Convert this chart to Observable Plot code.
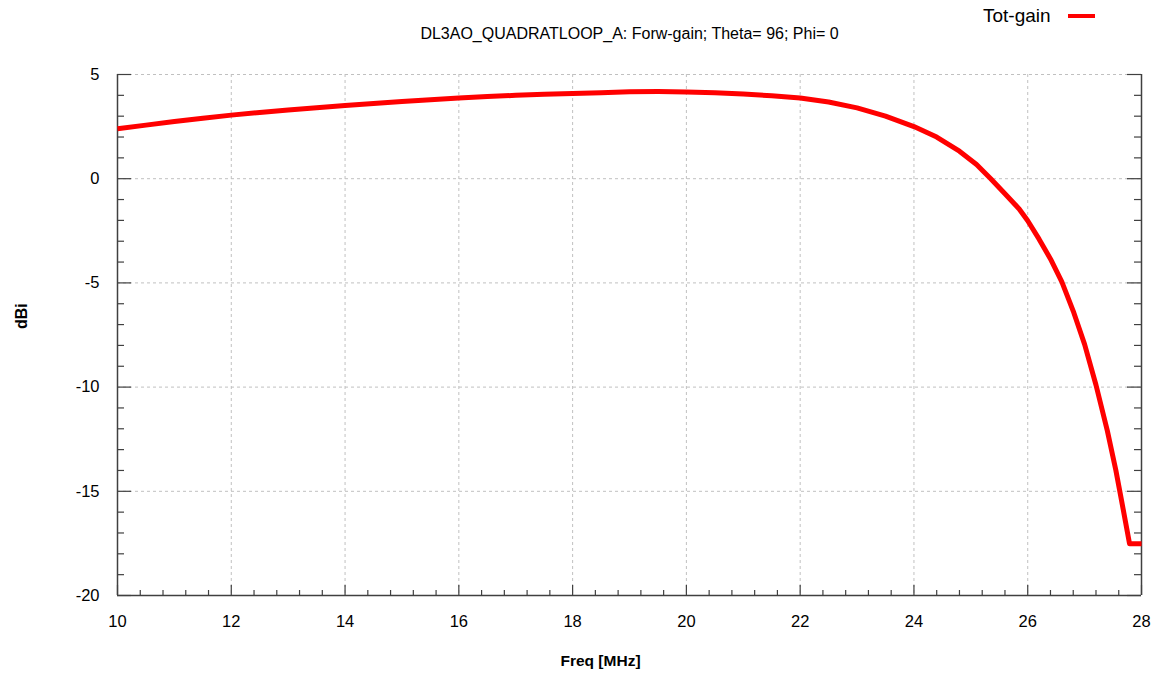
<!DOCTYPE html>
<html><head><meta charset="utf-8">
<script src="https://cdn.jsdelivr.net/npm/d3@7"></script>
<script src="https://cdn.jsdelivr.net/npm/@observablehq/plot@0.6"></script>
<style>
body{margin:0;background:#fff;font-family:"Liberation Sans",Arial,sans-serif;}
#wrap{position:relative;width:1160px;height:679px;overflow:hidden;}
#legend{position:absolute;left:983px;top:5px;font-size:19px;color:#000;display:flex;align-items:center;white-space:nowrap;}
#legend .sw{display:inline-block;width:27px;height:4px;background:#ff0000;margin-left:17px;}
</style></head><body><div id="wrap"><div id="legend"><span id="lgtext"></span><span class="sw"></span></div></div>
<script>
const title = "DL3AO_QUADRATLOOP_A: Forw-gain; Theta= 96; Phi= 0";
const seriesName = "Tot-gain";
const xLabel = "Freq [MHz]";
const yLabel = "dBi";
const freq = [10, 10.5, 11, 11.5, 12, 12.5, 13, 13.5, 14, 14.5, 15, 15.5, 16, 16.5, 17, 17.5, 18, 18.5, 19, 19.5, 20, 20.5, 21, 21.5, 22, 22.5, 23, 23.5, 24, 24.4, 24.8, 25.1, 25.35, 25.6, 25.85, 26, 26.2, 26.4, 26.6, 26.8, 27, 27.2, 27.4, 27.55, 27.65, 27.79, 28];
const gain = [2.40, 2.57, 2.74, 2.90, 3.05, 3.18, 3.30, 3.41, 3.51, 3.61, 3.70, 3.79, 3.87, 3.94, 4.00, 4.05, 4.09, 4.13, 4.17, 4.18, 4.16, 4.12, 4.06, 3.98, 3.87, 3.68, 3.40, 3.00, 2.50, 2.00, 1.32, 0.68, 0.0, -0.72, -1.45, -2.02, -2.90, -3.85, -4.95, -6.35, -7.95, -9.9, -12.1, -14.0, -15.45, -17.52, -17.52];
const xTicks = [10, 12, 14, 16, 18, 20, 22, 24, 26, 28];
const yTicks = [5, 0, -5, -10, -15, -20];
const xDomain = [10, 28];
const yDomain = [-20, 5];

const data = freq.map((f, i) => ({f, g: gain[i]}));
const xMinor = d3.range(0, 46).map(i => 10 + i * 0.4).filter(v => v < 28.01 && Math.abs(v / 2 - Math.round(v / 2)) > 1e-6);
const yMinor = d3.range(-20, 6).filter(v => v % 5 !== 0);

const W = 1160, H = 679, mL = 117, mR = 19, mT = 74, mB = 84;
const iw = W - mL - mR, ih = H - mT - mB;
const axisColor = "#404040";
const gridX = xTicks.filter(v => v !== xDomain[0] && v !== xDomain[1]);
const gridY = yTicks.filter(v => v !== yDomain[0]);
const fmt = d => String(d);

const chart = Plot.plot({
  width: W, height: H,
  marginLeft: mL, marginRight: mR, marginTop: mT, marginBottom: mB,
  style: {fontFamily: '"Liberation Sans", Arial, sans-serif', background: "#fff", color: "#000", overflow: "visible"},
  x: {domain: xDomain},
  y: {domain: yDomain},
  marks: [
    Plot.ruleX(gridX, {stroke: "#c0c0c0", strokeDasharray: "3,3", strokeWidth: 1}),
    Plot.ruleY(gridY, {stroke: "#c0c0c0", strokeDasharray: "3,3", strokeWidth: 1}),
    Plot.ruleX(xDomain, {stroke: axisColor, strokeWidth: 1.5}),
    Plot.ruleY([yDomain[0]], {stroke: axisColor, strokeWidth: 1.5}),
    Plot.tickY(yTicks, {y: d => d, insetRight: iw - 14, stroke: axisColor, strokeWidth: 1.2}),
    Plot.tickY(yMinor, {y: d => d, insetRight: iw - 7, stroke: axisColor, strokeWidth: 1.2}),
    Plot.tickY(yTicks, {y: d => d, insetLeft: iw - 14, stroke: axisColor, strokeWidth: 1.2}),
    Plot.tickY(yMinor, {y: d => d, insetLeft: iw - 7, stroke: axisColor, strokeWidth: 1.2}),
    Plot.tickX(xTicks, {x: d => d, insetTop: ih - 10, stroke: axisColor, strokeWidth: 1.2}),
    Plot.tickX(xMinor, {x: d => d, insetTop: ih - 5, stroke: axisColor, strokeWidth: 1.2}),
    Plot.axisY({ticks: yTicks, tickFormat: fmt, tickSize: 0, tickPadding: 18, fontSize: 16.5, label: null}),
    Plot.axisX({ticks: xTicks, tickFormat: fmt, tickSize: 0, tickPadding: 20, fontSize: 16.5, label: null}),
    Plot.line(data, {x: "f", y: "g", stroke: "#ff0000", strokeWidth: 5, strokeLinejoin: "round", strokeLinecap: "butt"}),
    Plot.text([title], {text: d => d, frameAnchor: "top", dy: -47, fontSize: 16, fill: "#000"}),
    Plot.text([xLabel], {text: d => d, frameAnchor: "bottom", dx: -29, dy: 70, fontSize: 15.5, fontWeight: "bold", fill: "#000"}),
    Plot.text([yLabel], {text: d => d, frameAnchor: "left", dx: -96, dy: -6, rotate: -90, fontSize: 16, fontWeight: "bold", fill: "#000"})
  ]
});
document.getElementById("wrap").prepend(chart);
document.getElementById("lgtext").textContent = seriesName;
</script>
</body></html>
